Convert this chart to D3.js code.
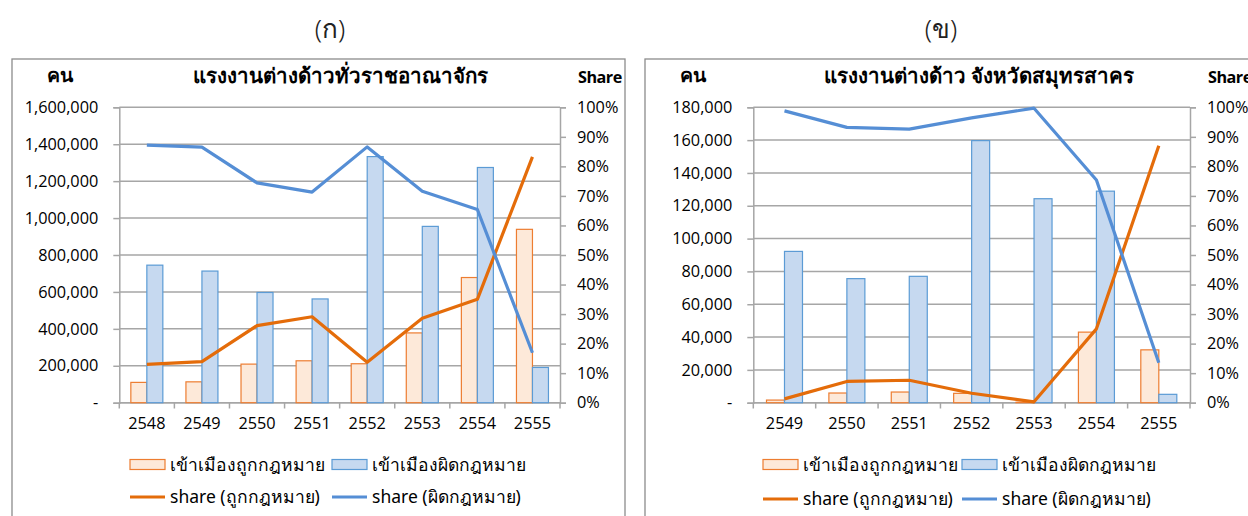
<!DOCTYPE html>
<html><head><meta charset="utf-8">
<script src="https://cdn.jsdelivr.net/npm/d3@7"></script>
<style>
html,body{margin:0;padding:0;background:#fff;overflow:hidden}
svg{display:block;font-family:"Noto Sans","Open Sans",sans-serif}
</style></head>
<body><svg id="c" width="1248" height="516"></svg>
<script>
// ---- Data: chart (ก) whole kingdom ----
const yearsA = ["2548","2549","2550","2551","2552","2553","2554","2555"];
const legalA = [110000,113000,209000,227000,211000,378000,678000,939000];
const illegalA = [745000,713000,597000,562000,1333000,955000,1274000,191000];
const shareLegalA = [0.130,0.139,0.261,0.291,0.137,0.286,0.350,0.832];
const shareIllegalA = [0.872,0.865,0.744,0.713,0.866,0.716,0.654,0.169];
const yTicksA = [0,200000,400000,600000,800000,1000000,1200000,1400000,1600000];

// ---- Data: chart (ข) Samut Sakhon ----
const yearsB = ["2549","2550","2551","2552","2553","2554","2555"];
const legalB = [1600,5900,6500,5700,300,43000,32200];
const illegalB = [92200,75600,77000,159700,124300,128900,5100];
const shareLegalB = [0.013,0.072,0.076,0.032,0.003,0.250,0.870];
const shareIllegalB = [0.988,0.932,0.926,0.964,0.997,0.754,0.135];
const yTicksB = [0,20000,40000,60000,80000,100000,120000,140000,160000,180000];

const shareTicks = [0,0.1,0.2,0.3,0.4,0.5,0.6,0.7,0.8,0.9,1.0];

const panelLabels = ["(ก)","(ข)"];
const titles = ["แรงงานต่างด้าวทั่วราชอาณาจักร","แรงงานต่างด้าว จังหวัดสมุทรสาคร"];
const legendNames = ["เข้าเมืองถูกกฎหมาย","เข้าเมืองผิดกฎหมาย","share (ถูกกฎหมาย)","share (ผิดกฎหมาย)"];

const C = {
  legalFill:"#FDE9D9", legalStroke:"#ED7D31", illegalFill:"#C6D9F0", illegalStroke:"#5B9BD5",
  legalLine:"#E46C0A", illegalLine:"#558ED5", grid:"#A6A6A6", border:"#8C8C8C", text:"#000"
};

const svg = d3.select("#c");
const fmt = d => d === 0 ? "-" : d3.format(",")(d);
const pct = d3.format(".0%");
const NUMFONT = "'Open Sans','Noto Sans',sans-serif";

function drawChart(o){
  const g = svg.append("g");
  // outer border
  g.append("rect").attr("x",o.bx).attr("y",59).attr("width",o.bw).attr("height",470)
    .attr("fill","none").attr("stroke",C.border).attr("stroke-width",1.3);
  // panel label
  svg.append("text").attr("x",o.labelX).attr("y",38).attr("text-anchor","middle")
    .attr("font-size",26).attr("font-weight",300).attr("fill","#222").text(o.label);

  const x = d3.scaleBand().domain(o.years).range([o.x0,o.x1]);
  const y = d3.scaleLinear().domain([0,o.ymax]).range([402.7,107.3]);
  const y2 = d3.scaleLinear().domain([0,1]).range([402.7,107.3]);

  // gridlines
  g.append("g").selectAll("line").data(o.yTicks).join("line")
    .attr("x1",o.x0).attr("x2",o.x1).attr("y1",d=>y(d)).attr("y2",d=>y(d))
    .attr("stroke",C.grid).attr("stroke-width",1.5);

  // left axis
  const la = g.append("g").attr("transform",`translate(${o.x0},0)`)
    .call(d3.axisLeft(y).tickValues(o.yTicks).tickFormat(fmt).tickSize(6).tickPadding(15));
  // right axis
  const ra = g.append("g").attr("transform",`translate(${o.x1},0)`)
    .call(d3.axisRight(y2).tickValues(shareTicks).tickFormat(pct).tickSize(6).tickPadding(11));
  // bottom axis
  const xa = g.append("g").attr("transform",`translate(0,402.7)`)
    .call(d3.axisBottom(x).tickSize(0).tickPadding(15));
  [la,ra,xa].forEach(a=>{
    a.select(".domain").attr("stroke",C.grid).attr("stroke-width",1.5);
    a.selectAll(".tick line").attr("stroke",C.grid).attr("stroke-width",1.5);
    a.selectAll("text").attr("font-size",16.3).attr("fill",C.text).attr("font-family",NUMFONT);
  });
  xa.select(".domain").attr("d",`M${o.x0},0H${o.x1}`);
  // category boundary ticks
  g.append("g").selectAll("line").data(o.years.concat(["_end"])).join("line")
    .attr("x1",(d,i)=>o.x0+i*x.step()).attr("x2",(d,i)=>o.x0+i*x.step())
    .attr("y1",402.7).attr("y2",408.5).attr("stroke",C.grid).attr("stroke-width",1.5);

  // bars
  const bw = o.barW;
  g.append("g").selectAll("rect").data(o.years).join("rect")
    .attr("x",d=>x(d)+x.bandwidth()/2-bw).attr("width",bw)
    .attr("y",(d,i)=>y(o.legal[i])).attr("height",(d,i)=>y(0)-y(o.legal[i]))
    .attr("fill",C.legalFill).attr("stroke",C.legalStroke).attr("stroke-width",1.2);
  g.append("g").selectAll("rect").data(o.years).join("rect")
    .attr("x",d=>x(d)+x.bandwidth()/2).attr("width",bw)
    .attr("y",(d,i)=>y(o.illegal[i])).attr("height",(d,i)=>y(0)-y(o.illegal[i]))
    .attr("fill",C.illegalFill).attr("stroke",C.illegalStroke).attr("stroke-width",1.2);

  // lines
  const line = vals => d3.line().x((d,i)=>x(o.years[i])+x.bandwidth()/2).y(d=>y2(d))(vals);
  g.append("path").attr("d",line(o.shareLegal)).attr("fill","none")
    .attr("stroke",C.legalLine).attr("stroke-width",3.2).attr("stroke-linejoin","round");
  g.append("path").attr("d",line(o.shareIllegal)).attr("fill","none")
    .attr("stroke",C.illegalLine).attr("stroke-width",3.2).attr("stroke-linejoin","round");

  // title and axis titles
  g.append("text").attr("x",o.titleX).attr("y",83).attr("text-anchor","middle")
    .attr("font-size",20.5).attr("font-weight","bold").text(o.title);
  g.append("text").attr("x",o.bx+48).attr("y",81.5).attr("text-anchor","middle")
    .attr("font-size",19.5).attr("font-weight","bold").text("คน");
  g.append("text").attr("x",o.x1+18).attr("y",82.5).attr("text-anchor","start")
    .attr("font-size",16.2).attr("font-weight","bold").attr("letter-spacing",-0.5)
    .attr("font-family",NUMFONT).text("Share");

  // legend
  const L = o.leg;
  const lg = g.append("g").attr("font-size",17.5);
  lg.append("rect").attr("x",L[0]).attr("y",459.5).attr("width",35).attr("height",10)
    .attr("fill",C.legalFill).attr("stroke",C.legalStroke).attr("stroke-width",1.2);
  lg.append("text").attr("x",L[0]+40).attr("y",471).text(legendNames[0]);
  lg.append("rect").attr("x",L[1]).attr("y",459.5).attr("width",35).attr("height",10)
    .attr("fill",C.illegalFill).attr("stroke",C.illegalStroke).attr("stroke-width",1.2);
  lg.append("text").attr("x",L[1]+40).attr("y",471).text(legendNames[1]);
  lg.append("line").attr("x1",L[0]).attr("x2",L[0]+35).attr("y1",o.ly).attr("y2",o.ly)
    .attr("stroke",C.legalLine).attr("stroke-width",3.2);
  lg.append("text").attr("x",L[0]+40).attr("y",o.ly+6).text(legendNames[2]);
  lg.append("line").attr("x1",L[1]).attr("x2",L[1]+35).attr("y1",o.ly).attr("y2",o.ly)
    .attr("stroke",C.illegalLine).attr("stroke-width",3.2);
  lg.append("text").attr("x",L[1]+40).attr("y",o.ly+6).text(legendNames[3]);
}

drawChart({bx:12,bw:613,x0:119.3,x1:560,years:yearsA,legal:legalA,illegal:illegalA,
  shareLegal:shareLegalA,shareIllegal:shareIllegalA,ymax:1600000,yTicks:yTicksA,
  barW:16,label:panelLabels[0],labelX:330,title:titles[0],titleX:340,leg:[130,332],ly:497});
drawChart({bx:645,bw:620,x0:753.3,x1:1190,years:yearsB,legal:legalB,illegal:illegalB,
  shareLegal:shareLegalB,shareIllegal:shareIllegalB,ymax:180000,yTicks:yTicksB,
  barW:18,label:panelLabels[1],labelX:941,title:titles[1],titleX:979,leg:[763,962],ly:499});
</script></body></html>
